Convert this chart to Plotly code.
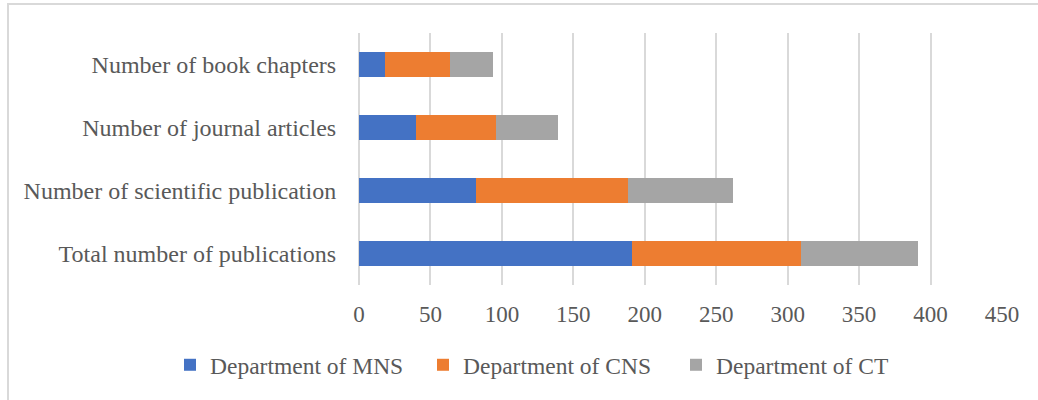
import plotly.graph_objects as go

categories = ["Total number of publications", "Number of scientific publication",
              "Number of journal articles", "Number of book chapters"]
mns = [191, 82, 40, 18]
cns = [118, 106, 56, 46]
ct = [82, 74, 43, 30]
series_names = ["Department of MNS", "Department of CNS", "Department of CT"]
colors = ["#4472C4", "#ED7D31", "#A5A5A5"]
tick_vals = [0, 50, 100, 150, 200, 250, 300, 350, 400, 450]

W, H = 1038, 400
ml, mr, mt, mb = 359, 36, 33, 115
pw, ph = W - ml - mr, H - mt - mb

fig = go.Figure()
for name, vals, col in zip(series_names, [mns, cns, ct], colors):
    fig.add_trace(go.Bar(y=categories, x=vals, name=name, orientation="h",
                         marker=dict(color=col, line=dict(width=0))))

font = "Liberation Serif"
fig.update_layout(
    barmode="stack", bargap=0.6,
    width=W, height=H,
    margin=dict(l=ml, r=mr, t=mt, b=mb, autoexpand=False),
    paper_bgcolor="white", plot_bgcolor="white",
    font=dict(family=font, color="#595959", size=23),
    showlegend=True,
    legend=dict(orientation="h", xref="paper", yref="paper",
                x=(170 - ml) / pw, y=(H - mb - 365) / ph,
                xanchor="left", yanchor="middle",
                font=dict(size=23.5, color="#595959"), itemwidth=30,
                entrywidth=208, entrywidthmode="pixels",
                traceorder="normal", tracegroupgap=0),
    xaxis=dict(range=[0, 450], tickvals=tick_vals, showgrid=True,
               gridcolor="#D9D9D9", gridwidth=1.5, zeroline=True,
               zerolinecolor="#D9D9D9", zerolinewidth=1.5,
               ticks="outside", ticklen=8, tickcolor="rgba(0,0,0,0)",
               tickfont=dict(size=23), fixedrange=True),
    yaxis=dict(showgrid=False, ticks="outside", ticklen=17,
               tickcolor="rgba(0,0,0,0)", tickfont=dict(size=24),
               categoryorder="array", categoryarray=categories),
)

# chart-area border (left and top edges visible; others fall outside)
fig.add_shape(type="rect", xref="paper", yref="paper",
              x0=(8 - ml) / pw, x1=(W + 10 - ml) / pw,
              y0=(mt + ph - (H + 10)) / ph, y1=(mt + ph - 4) / ph,
              line=dict(color="#D9D9D9", width=2), fillcolor="rgba(0,0,0,0)",
              layer="below")

fig.write_html("out.html", config={"displayModeBar": False},
               post_script="document.body.style.margin='0';")
